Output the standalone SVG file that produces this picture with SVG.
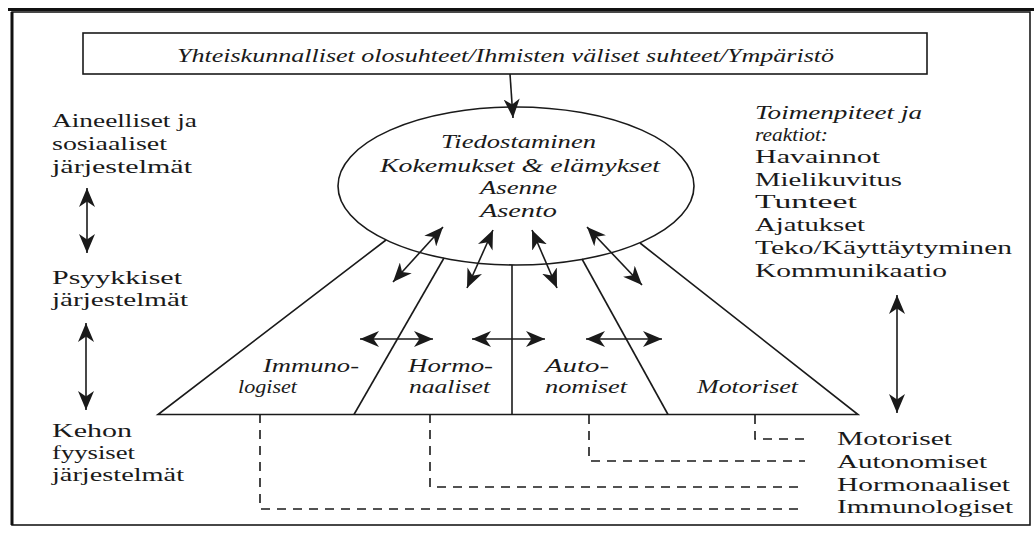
<svg xmlns="http://www.w3.org/2000/svg" width="1034" height="534" viewBox="0 0 1034 534">
<defs>
<marker id="ah" viewBox="0 0 19 16" markerUnits="userSpaceOnUse" markerWidth="19" markerHeight="16" refX="19" refY="8" orient="auto-start-reverse"><path d="M0,0 L19,8 L0,16 L5.5,8 Z" fill="#1a1a1a"/></marker>
<style>
.ln{stroke:#1a1a1a;stroke-width:1.6;fill:none}
.ar{stroke:#1a1a1a;stroke-width:1.6;fill:none;marker-end:url(#ah)}
.dar{stroke:#1a1a1a;stroke-width:1.6;fill:none;marker-start:url(#ah);marker-end:url(#ah)}
.ds{stroke:#1a1a1a;stroke-width:1.6;fill:none;stroke-dasharray:9 7}
.t{font-family:"Liberation Serif","Times New Roman",serif;font-size:18px;fill:#1a1a1a}
.i{font-style:italic}
</style>
</defs>
<rect x="0" y="0" width="1034" height="534" fill="#ffffff"/>
<g id="frame">
<line x1="8" y1="9.5" x2="1034" y2="9.5" stroke="#111" stroke-width="3"/>
<rect x="12" y="12" width="1018" height="513" class="ln"/>
<line x1="12" y1="12" x2="12" y2="525" stroke="#111" stroke-width="3"/>
</g>
<g id="top-box">
<rect x="83" y="33" width="844" height="41" class="ln"/>
<text class="t i" x="177" y="62" textLength="657" lengthAdjust="spacingAndGlyphs">Yhteiskunnalliset olosuhteet/Ihmisten väliset suhteet/Ympäristö</text>
</g>
<g id="ellipse-node">
<ellipse cx="516" cy="186" rx="178" ry="79" class="ln"/>
<text class="t i" x="441" y="148" textLength="155" lengthAdjust="spacingAndGlyphs">Tiedostaminen</text>
<text class="t i" x="380" y="172" textLength="280" lengthAdjust="spacingAndGlyphs">Kokemukset &amp; elämykset</text>
<text class="t i" x="480" y="194" textLength="77" lengthAdjust="spacingAndGlyphs">Asenne</text>
<text class="t i" x="480" y="217" textLength="77" lengthAdjust="spacingAndGlyphs">Asento</text>
</g>
<g id="pyramid">
<path class="ln" d="M386,240 L158,414.5 H858 L640,243"/>
<path class="ln" d="M444,258 L354,414.5"/>
<path class="ln" d="M512,265 V414.5"/>
<path class="ln" d="M582,259 L668,414.5"/>
</g>
<g id="label-immunologiset">
<text class="t i" x="263" y="372" textLength="96" lengthAdjust="spacingAndGlyphs">Immuno-</text>
<text class="t i" x="238" y="393" textLength="59" lengthAdjust="spacingAndGlyphs">logiset</text>
</g>
<g id="label-hormonaaliset">
<text class="t i" x="408" y="372" textLength="85" lengthAdjust="spacingAndGlyphs">Hormo-</text>
<text class="t i" x="409" y="393" textLength="81" lengthAdjust="spacingAndGlyphs">naaliset</text>
</g>
<g id="label-autonomiset">
<text class="t i" x="545" y="372" textLength="64" lengthAdjust="spacingAndGlyphs">Auto-</text>
<text class="t i" x="545" y="393" textLength="82" lengthAdjust="spacingAndGlyphs">nomiset</text>
</g>
<g id="label-motoriset">
<text class="t i" x="697" y="393" textLength="101" lengthAdjust="spacingAndGlyphs">Motoriset</text>
</g>
<g id="left-aineelliset">
<text class="t" x="52" y="127" textLength="145" lengthAdjust="spacingAndGlyphs">Aineelliset ja</text>
<text class="t" x="52" y="150" textLength="115" lengthAdjust="spacingAndGlyphs">sosiaaliset</text>
<text class="t" x="52" y="173" textLength="140" lengthAdjust="spacingAndGlyphs">järjestelmät</text>
</g>
<g id="left-psyykkiset">
<text class="t" x="52" y="284" textLength="130" lengthAdjust="spacingAndGlyphs">Psyykkiset</text>
<text class="t" x="52" y="306" textLength="136" lengthAdjust="spacingAndGlyphs">järjestelmät</text>
</g>
<g id="left-kehon">
<text class="t" x="52" y="437" textLength="80" lengthAdjust="spacingAndGlyphs">Kehon</text>
<text class="t" x="52" y="459" textLength="83" lengthAdjust="spacingAndGlyphs">fyysiset</text>
<text class="t" x="52" y="481" textLength="132" lengthAdjust="spacingAndGlyphs">järjestelmät</text>
</g>
<g id="right-toimenpiteet">
<text class="t i" x="755" y="119" textLength="167" lengthAdjust="spacingAndGlyphs">Toimenpiteet ja</text>
<text class="t i" x="755" y="141" textLength="73" lengthAdjust="spacingAndGlyphs">reaktiot:</text>
<text class="t" x="755" y="163" textLength="125" lengthAdjust="spacingAndGlyphs">Havainnot</text>
<text class="t" x="755" y="186" textLength="147" lengthAdjust="spacingAndGlyphs">Mielikuvitus</text>
<text class="t" x="755" y="208" textLength="102" lengthAdjust="spacingAndGlyphs">Tunteet</text>
<text class="t" x="755" y="231" textLength="110" lengthAdjust="spacingAndGlyphs">Ajatukset</text>
<text class="t" x="755" y="254" textLength="257" lengthAdjust="spacingAndGlyphs">Teko/Käyttäytyminen</text>
<text class="t" x="755" y="277" textLength="192" lengthAdjust="spacingAndGlyphs">Kommunikaatio</text>
</g>
<g id="right-systems">
<text class="t" x="837" y="445" textLength="115" lengthAdjust="spacingAndGlyphs">Motoriset</text>
<text class="t" x="837" y="468" textLength="150" lengthAdjust="spacingAndGlyphs">Autonomiset</text>
<text class="t" x="837" y="491" textLength="173" lengthAdjust="spacingAndGlyphs">Hormonaaliset</text>
<text class="t" x="837" y="513" textLength="176" lengthAdjust="spacingAndGlyphs">Immunologiset</text>
</g>
<g id="connectors">
<path class="ar" d="M510,74 L513,118"/>
<path class="dar" d="M87,188 V253"/>
<path class="dar" d="M86,323 V410"/>
<path class="dar" d="M897,295 V413"/>
<path class="dar" d="M443,227 L393,282"/>
<path class="dar" d="M493,230 L467,288"/>
<path class="dar" d="M532,230 L557,288"/>
<path class="dar" d="M587,227 L642,285"/>
<path class="dar" d="M360,339 H433"/>
<path class="dar" d="M472,339 H545"/>
<path class="dar" d="M586,339 H662"/>
<path class="ds" d="M260,414 V509 H805"/>
<path class="ds" d="M430,414 V487 H805"/>
<path class="ds" d="M589,415 V461 H805"/>
<path class="ds" d="M755,415 V439 H805"/>
</g>
</svg>
